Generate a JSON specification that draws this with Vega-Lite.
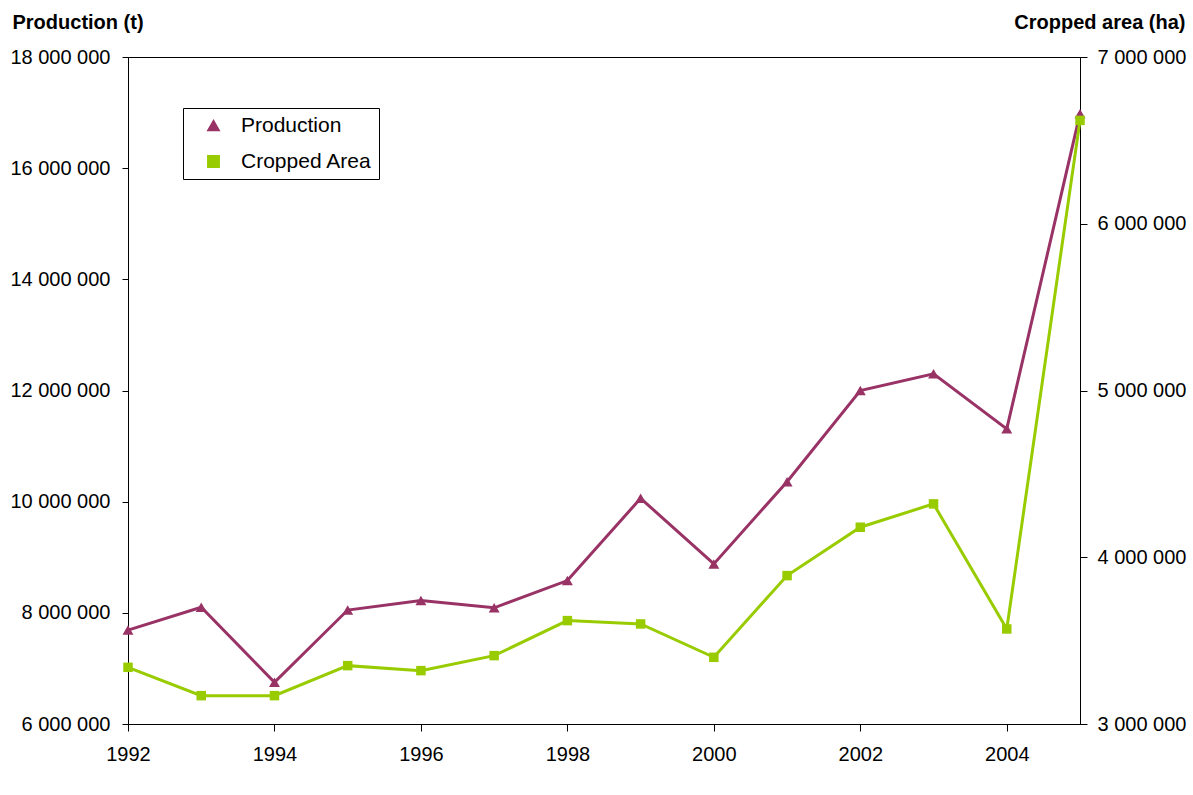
{
  "$schema": "https://vega.github.io/schema/vega-lite/v6.json",
  "width": 952,
  "height": 667,
  "autosize": "none",
  "padding": {"left": 128, "top": 57, "right": 113, "bottom": 71},
  "background": "white",
  "config": {
    "font": "Liberation Sans",
    "view": {"stroke": "black", "strokeWidth": 1},
    "axis": {
      "grid": false,
      "domainColor": "black",
      "tickColor": "black",
      "labelColor": "black",
      "labelFont": "Liberation Sans",
      "labelFontSize": 20,
      "labelFlush": false,
      "labelOverlap": false,
      "titleColor": "black",
      "titleFont": "Liberation Sans",
      "titleFontSize": 20,
      "titleFontWeight": "bold"
    }
  },
  "data": {
    "values": [
      {"year": 1992, "series": "Production", "value": 7690000},
      {"year": 1993, "series": "Production", "value": 8100000},
      {"year": 1994, "series": "Production", "value": 6750000},
      {"year": 1995, "series": "Production", "value": 8050000},
      {"year": 1996, "series": "Production", "value": 8220000},
      {"year": 1997, "series": "Production", "value": 8090000},
      {"year": 1998, "series": "Production", "value": 8580000},
      {"year": 1999, "series": "Production", "value": 10060000},
      {"year": 2000, "series": "Production", "value": 8880000},
      {"year": 2001, "series": "Production", "value": 10360000},
      {"year": 2002, "series": "Production", "value": 12000000},
      {"year": 2003, "series": "Production", "value": 12300000},
      {"year": 2004, "series": "Production", "value": 11310000},
      {"year": 2005, "series": "Production", "value": 16980000},
      {"year": 1992, "series": "Cropped Area", "value": 3340000},
      {"year": 1993, "series": "Cropped Area", "value": 3170000},
      {"year": 1994, "series": "Cropped Area", "value": 3170000},
      {"year": 1995, "series": "Cropped Area", "value": 3350000},
      {"year": 1996, "series": "Cropped Area", "value": 3320000},
      {"year": 1997, "series": "Cropped Area", "value": 3410000},
      {"year": 1998, "series": "Cropped Area", "value": 3620000},
      {"year": 1999, "series": "Cropped Area", "value": 3600000},
      {"year": 2000, "series": "Cropped Area", "value": 3400000},
      {"year": 2001, "series": "Cropped Area", "value": 3890000},
      {"year": 2002, "series": "Cropped Area", "value": 4180000},
      {"year": 2003, "series": "Cropped Area", "value": 4320000},
      {"year": 2004, "series": "Cropped Area", "value": 3570000},
      {"year": 2005, "series": "Cropped Area", "value": 6620000}
    ]
  },
  "encoding": {
    "x": {
      "field": "year",
      "type": "quantitative",
      "scale": {"domain": [1992, 2005], "nice": false, "zero": false},
      "axis": {
        "title": null,
        "values": [1992, 1994, 1996, 1998, 2000, 2002, 2004],
        "format": "d",
        "tickSize": 7,
        "labelPadding": 13
      }
    },
    "color": {
      "field": "series",
      "type": "nominal",
      "scale": {"domain": ["Production", "Cropped Area"], "range": ["#993366", "#99CC00"]},
      "legend": {
        "title": null,
        "orient": "none",
        "legendX": 55,
        "legendY": 51,
        "padding": 7,
        "strokeColor": "black",
        "fillColor": "white",
        "cornerRadius": 0,
        "labelFont": "Liberation Sans",
        "labelFontSize": 21,
        "labelColor": "black",
        "symbolOffset": 13,
        "labelOffset": 17,
        "rowPadding": 14,
        "symbolSize": 130
      }
    }
  },
  "layer": [
    {
      "transform": [{"filter": "datum.series === 'Production'"}],
      "encoding": {
        "y": {
          "field": "value",
          "type": "quantitative",
          "scale": {"domain": [6000000, 18000000], "nice": false, "zero": false},
          "axis": {
            "orient": "left",
            "title": "Production (t)",
            "values": [6000000, 8000000, 10000000, 12000000, 14000000, 16000000, 18000000],
            "labelExpr": "replace(format(datum.value, ','), regexp(',', 'g'), ' ')",
            "tickSize": 6,
            "labelPadding": 12,
            "titleAngle": 0,
            "titleAlign": "left",
            "titleBaseline": "alphabetic",
            "titleX": -116,
            "titleY": -29
          }
        }
      },
      "layer": [
        {"mark": {"type": "line", "strokeWidth": 3}},
        {
          "mark": {"type": "point", "filled": true, "opacity": 1, "size": 120},
          "encoding": {
            "shape": {
              "field": "series",
              "type": "nominal",
              "scale": {"domain": ["Production", "Cropped Area"], "range": ["triangle-up", "square"]},
              "legend": null
            }
          }
        }
      ]
    },
    {
      "transform": [{"filter": "datum.series === 'Cropped Area'"}],
      "encoding": {
        "y": {
          "field": "value",
          "type": "quantitative",
          "scale": {"domain": [3000000, 7000000], "nice": false, "zero": false},
          "axis": {
            "orient": "right",
            "title": "Cropped area (ha)",
            "values": [3000000, 4000000, 5000000, 6000000, 7000000],
            "labelExpr": "replace(format(datum.value, ','), regexp(',', 'g'), ' ')",
            "tickSize": 7,
            "labelPadding": 10,
            "titleAngle": 0,
            "titleAlign": "right",
            "titleBaseline": "alphabetic",
            "titleX": 105,
            "titleY": -29
          }
        }
      },
      "layer": [
        {"mark": {"type": "line", "strokeWidth": 3}},
        {
          "mark": {"type": "point", "filled": true, "opacity": 1, "size": 90},
          "encoding": {
            "shape": {
              "field": "series",
              "type": "nominal",
              "scale": {"domain": ["Production", "Cropped Area"], "range": ["triangle-up", "square"]},
              "legend": null
            }
          }
        }
      ]
    }
  ],
  "resolve": {"scale": {"y": "independent"}}
}
